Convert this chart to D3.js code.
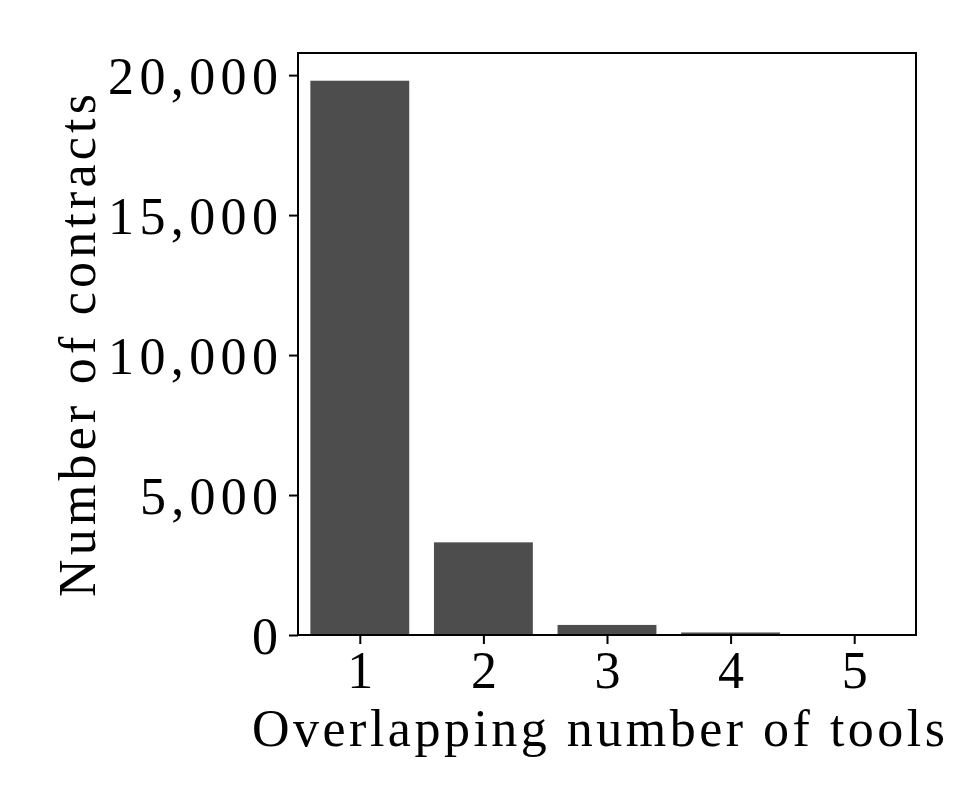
<!DOCTYPE html>
<html><head><meta charset="utf-8">
<script src="https://cdn.jsdelivr.net/npm/d3@7"></script>
<style>body{margin:0;background:#fff}svg{display:block}text{font-family:"Liberation Serif","DejaVu Serif",serif;fill:#000}</style>
</head><body>
<script>
const categories = [1, 2, 3, 4, 5];
const counts = [19800, 3310, 360, 90, 8];
const yTicks = [0, 5000, 10000, 15000, 20000];
const xLabel = "Overlapping number of tools";
const yLabel = "Number of contracts";

const W = 969, H = 807;
const m = {left: 298, right: 53, top: 53, bottom: 172};
const FS = 52;
const svg = d3.select("body").append("svg").attr("width", W).attr("height", H);

const x = d3.scaleLinear().domain([0.5, 5.5]).range([m.left, W - m.right]);
const y = d3.scaleLinear().domain([0, 20790]).range([H - m.bottom, m.top]);
const bw = x(1.4) - x(0.6);

svg.append("g").selectAll("rect").data(categories).join("rect")
  .attr("x", d => x(d) - bw / 2)
  .attr("width", bw)
  .attr("y", (d, i) => y(counts[i]))
  .attr("height", (d, i) => y(0) - y(counts[i]))
  .attr("fill", "#4d4d4d");

svg.append("rect").attr("x", m.left).attr("y", m.top)
  .attr("width", W - m.right - m.left).attr("height", H - m.bottom - m.top)
  .attr("fill", "none").attr("stroke", "#000").attr("stroke-width", 2);

const fmt = d3.format(",");
const xAxis = svg.append("g").attr("transform", `translate(0,${H - m.bottom})`)
  .call(d3.axisBottom(x).tickValues(categories).tickSize(9).tickPadding(0).tickFormat(d3.format("d")));
const yAxis = svg.append("g").attr("transform", `translate(${m.left},0)`)
  .call(d3.axisLeft(y).tickValues(yTicks).tickSize(9).tickPadding(11).tickFormat(fmt));
[xAxis, yAxis].forEach(a => {
  a.select(".domain").remove();
  a.selectAll(".tick line").attr("stroke", "#000").attr("stroke-width", 2);
  a.selectAll(".tick text").attr("font-size", FS).attr("font-family", null).attr("fill", "#000");
});
xAxis.selectAll(".tick text").attr("dy", null).attr("y", 53);
yAxis.selectAll(".tick text").attr("dy", "0.36em");
yAxis.selectAll(".tick text").each(function(d) {
  const s = fmt(d);
  if (s.length > 1) d3.select(this).attr("textLength", s.length === 6 ? 170 : 138).attr("lengthAdjust", "spacing");
});

svg.append("text").attr("x", 252).attr("y", 746).attr("font-size", FS)
  .attr("textLength", 693).attr("lengthAdjust", "spacing").text(xLabel);
svg.append("text").attr("transform", "translate(95,597) rotate(-90)").attr("font-size", FS)
  .attr("textLength", 503).attr("lengthAdjust", "spacing").text(yLabel);
</script>
</body></html>
